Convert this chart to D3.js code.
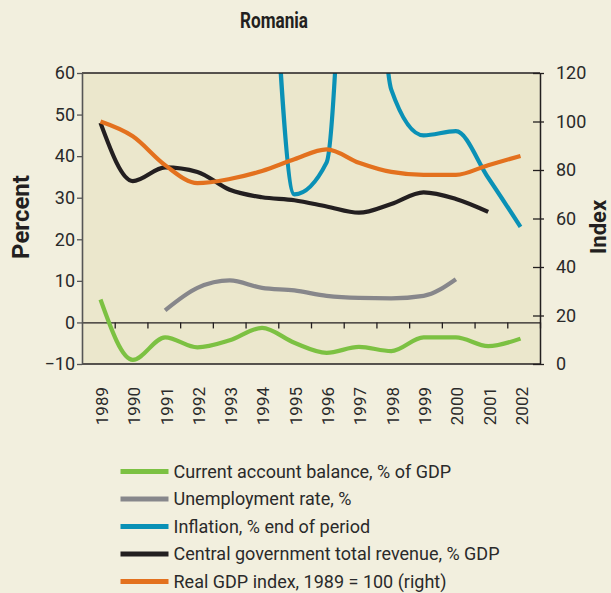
<!DOCTYPE html>
<html>
<head>
<meta charset="utf-8">
<script src="https://cdn.jsdelivr.net/npm/d3@7"></script>
<style>
  html, body { margin: 0; padding: 0; background: #f2efde; }
  svg { display: block; font-family: Roboto, "Noto Sans", sans-serif; }
</style>
</head>
<body>
<svg id="chart" width="611" height="593"></svg>
<script>
// ---- data -------------------------------------------------------------
const years = [1989, 1990, 1991, 1992, 1993, 1994, 1995, 1996, 1997, 1998, 1999, 2000, 2001, 2002];
const yearLabels = ["1989", "1990", "1991", "1992", "1993", "1994", "1995", "1996", "1997", "1998", "1999", "2000", "2001", "2002"];

// left axis series (percent)
const currentAccount = [5.5, -9.0, -3.6, -6.0, -4.3, -1.3, -4.9, -7.3, -5.9, -6.9, -3.6, -3.6, -5.7, -3.9];
const unemployment   = [null, null, 2.9, 8.3, 10.1, 8.3, 7.7, 6.4, 5.9, 5.8, 6.4, 10.4, null, null];
const inflation      = [null, null, null, null, 256, 137, 30.8, 38.5, 155, 56, 45.0, 46.0, 34.8, 23.0];
const revenue        = [48.0, 34.0, 37.3, 36.2, 31.9, 30.1, 29.4, 27.9, 26.4, 28.5, 31.3, 29.7, 26.6, null];
// right axis series (index)
const gdpIndex       = [100, 93.9, 82.0, 74.6, 76.3, 79.6, 84.4, 88.5, 83.0, 79.2, 78.0, 78.0, 82.0, 85.8];

const leftTicks  = [-10, 0, 10, 20, 30, 40, 50, 60];
const rightTicks = [0, 20, 40, 60, 80, 100, 120];

const legendLabels = [
  "Current account balance, % of GDP",
  "Unemployment rate, %",
  "Inflation, % end of period",
  "Central government total revenue, % GDP",
  "Real GDP index, 1989 = 100 (right)"
];
const seriesColors = ["#7cc142", "#87878b", "#0a91b6", "#231f20", "#e3711e"];

// ---- layout -----------------------------------------------------------
const plot = { left: 82, right: 540, top: 73, bottom: 364 };
const svg = d3.select("#chart");

// year-boundary scale (for the frame ticks) and data-point scale
const xBand = d3.scaleLinear().domain([years[0] - 0.5, years[years.length - 1] + 0.5]).range([plot.left, plot.right]);
const x  = d3.scaleLinear().domain([years[0], years[years.length - 1]]).range([100.5, 520.5]);
const yL = d3.scaleLinear().domain([-10, 60]).range([plot.bottom, plot.top]);
const yR = d3.scaleLinear().domain([0, 120]).range([plot.bottom, plot.top]);

// title
svg.append("text")
  .attr("transform", "translate(274,28) scale(0.78,1)")
  .attr("text-anchor", "middle")
  .attr("font-size", 22).attr("font-weight", 700).attr("fill", "#231f20")
  .text("Romania");

// plot background
svg.append("rect")
  .attr("x", plot.left).attr("y", plot.top)
  .attr("width", plot.right - plot.left).attr("height", plot.bottom - plot.top)
  .attr("fill", "#ebe7cc");

svg.append("clipPath").attr("id", "plotClip")
  .append("rect")
  .attr("x", plot.left).attr("y", plot.top)
  .attr("width", plot.right - plot.left).attr("height", plot.bottom - plot.top);

// zero line with year-boundary ticks
const boundaries = years.slice(1).map(y => y - 0.5).concat([years[years.length - 1] + 0.5]);
const zeroAxis = svg.append("g")
  .attr("transform", `translate(0,${yL(0)})`)
  .call(d3.axisBottom(xBand).tickValues(boundaries).tickSize(6).tickSizeOuter(0).tickFormat(""));
zeroAxis.select(".domain").attr("stroke", "#231f20").attr("stroke-width", 1.3);
zeroAxis.selectAll(".tick line").attr("stroke", "#231f20").attr("stroke-width", 1.3);

// series lines
const lineFor = (scale) => d3.line()
  .x(d => x(d[0]))
  .y(d => scale(d[1]))
  .curve(d3.curveMonotoneX);

const series = [
  { values: currentAccount, scale: yL },
  { values: unemployment,   scale: yL },
  { values: inflation,      scale: yL },
  { values: revenue,        scale: yL },
  { values: gdpIndex,       scale: yR }
];

const lines = svg.append("g").attr("clip-path", "url(#plotClip)");
series.forEach((s, i) => {
  const pts = years.map((yr, j) => [yr, s.values[j]]).filter(d => d[1] !== null);
  lines.append("path")
    .datum(pts)
    .attr("fill", "none")
    .attr("stroke", seriesColors[i])
    .attr("stroke-width", 4.2)
    .attr("stroke-linejoin", "round")
    .attr("d", lineFor(s.scale));
});

// frame top / bottom
svg.append("line").attr("x1", plot.left).attr("x2", plot.right).attr("y1", plot.top).attr("y2", plot.top)
  .attr("stroke", "#231f20").attr("stroke-width", 1.5);
svg.append("line").attr("x1", plot.left).attr("x2", plot.right).attr("y1", plot.bottom).attr("y2", plot.bottom)
  .attr("stroke", "#231f20").attr("stroke-width", 1.5);

// left axis
const leftAxis = svg.append("g")
  .attr("transform", `translate(${plot.left},0)`)
  .call(d3.axisLeft(yL).tickValues(leftTicks).tickSize(5).tickSizeOuter(0).tickPadding(2));
leftAxis.select(".domain").attr("stroke", "#555").attr("stroke-width", 1.6);
leftAxis.selectAll(".tick line").attr("stroke", "#555").attr("stroke-width", 1.3);
leftAxis.selectAll(".tick text").attr("font-size", 18).attr("fill", "#2a2a2a").attr("font-family", "Roboto");

// right axis
const rightAxis = svg.append("g")
  .attr("transform", `translate(${plot.right},0)`)
  .call(d3.axisRight(yR).tickValues(rightTicks).tickSize(4).tickSizeOuter(0).tickPadding(12));
rightAxis.select(".domain").attr("stroke", "#231f20").attr("stroke-width", 1.5);
rightAxis.selectAll(".tick line").attr("x1", -7).attr("stroke", "#231f20").attr("stroke-width", 1.3);
rightAxis.selectAll(".tick text").attr("font-size", 18).attr("fill", "#2a2a2a").attr("font-family", "Roboto");

// year labels
const yearAxis = svg.append("g")
  .attr("transform", `translate(0,${plot.bottom})`)
  .call(d3.axisBottom(x).tickValues(years).tickSize(0).tickFormat((d, i) => yearLabels[i]));
yearAxis.select(".domain").remove();
yearAxis.selectAll(".tick text")
  .attr("transform", "rotate(-90)")
  .attr("text-anchor", "end")
  .attr("x", -23).attr("y", 1).attr("dy", "0.35em")
  .attr("font-size", 17).attr("fill", "#2a2a2a").attr("font-family", "Roboto");

// axis titles
svg.append("text")
  .attr("transform", "translate(21,217) rotate(-90)")
  .attr("text-anchor", "middle").attr("dy", "0.35em")
  .attr("font-size", 24).attr("font-weight", 700).attr("fill", "#231f20")
  .text("Percent");
svg.append("text")
  .attr("transform", "translate(598,227) rotate(-90)")
  .attr("text-anchor", "middle").attr("dy", "0.35em")
  .attr("font-size", 22).attr("font-weight", 700).attr("fill", "#231f20")
  .text("Index");

// legend
const legend = svg.append("g");
legendLabels.forEach((label, i) => {
  const cy = 471.5 + i * 27.5;
  legend.append("line")
    .attr("x1", 120.5).attr("x2", 168.5).attr("y1", cy).attr("y2", cy)
    .attr("stroke", seriesColors[i]).attr("stroke-width", 5);
  legend.append("text")
    .attr("x", 173.5).attr("y", cy).attr("dy", "0.35em")
    .attr("font-size", 18).attr("fill", "#2a2a2a")
    .text(label);
});
</script>
</body>
</html>
